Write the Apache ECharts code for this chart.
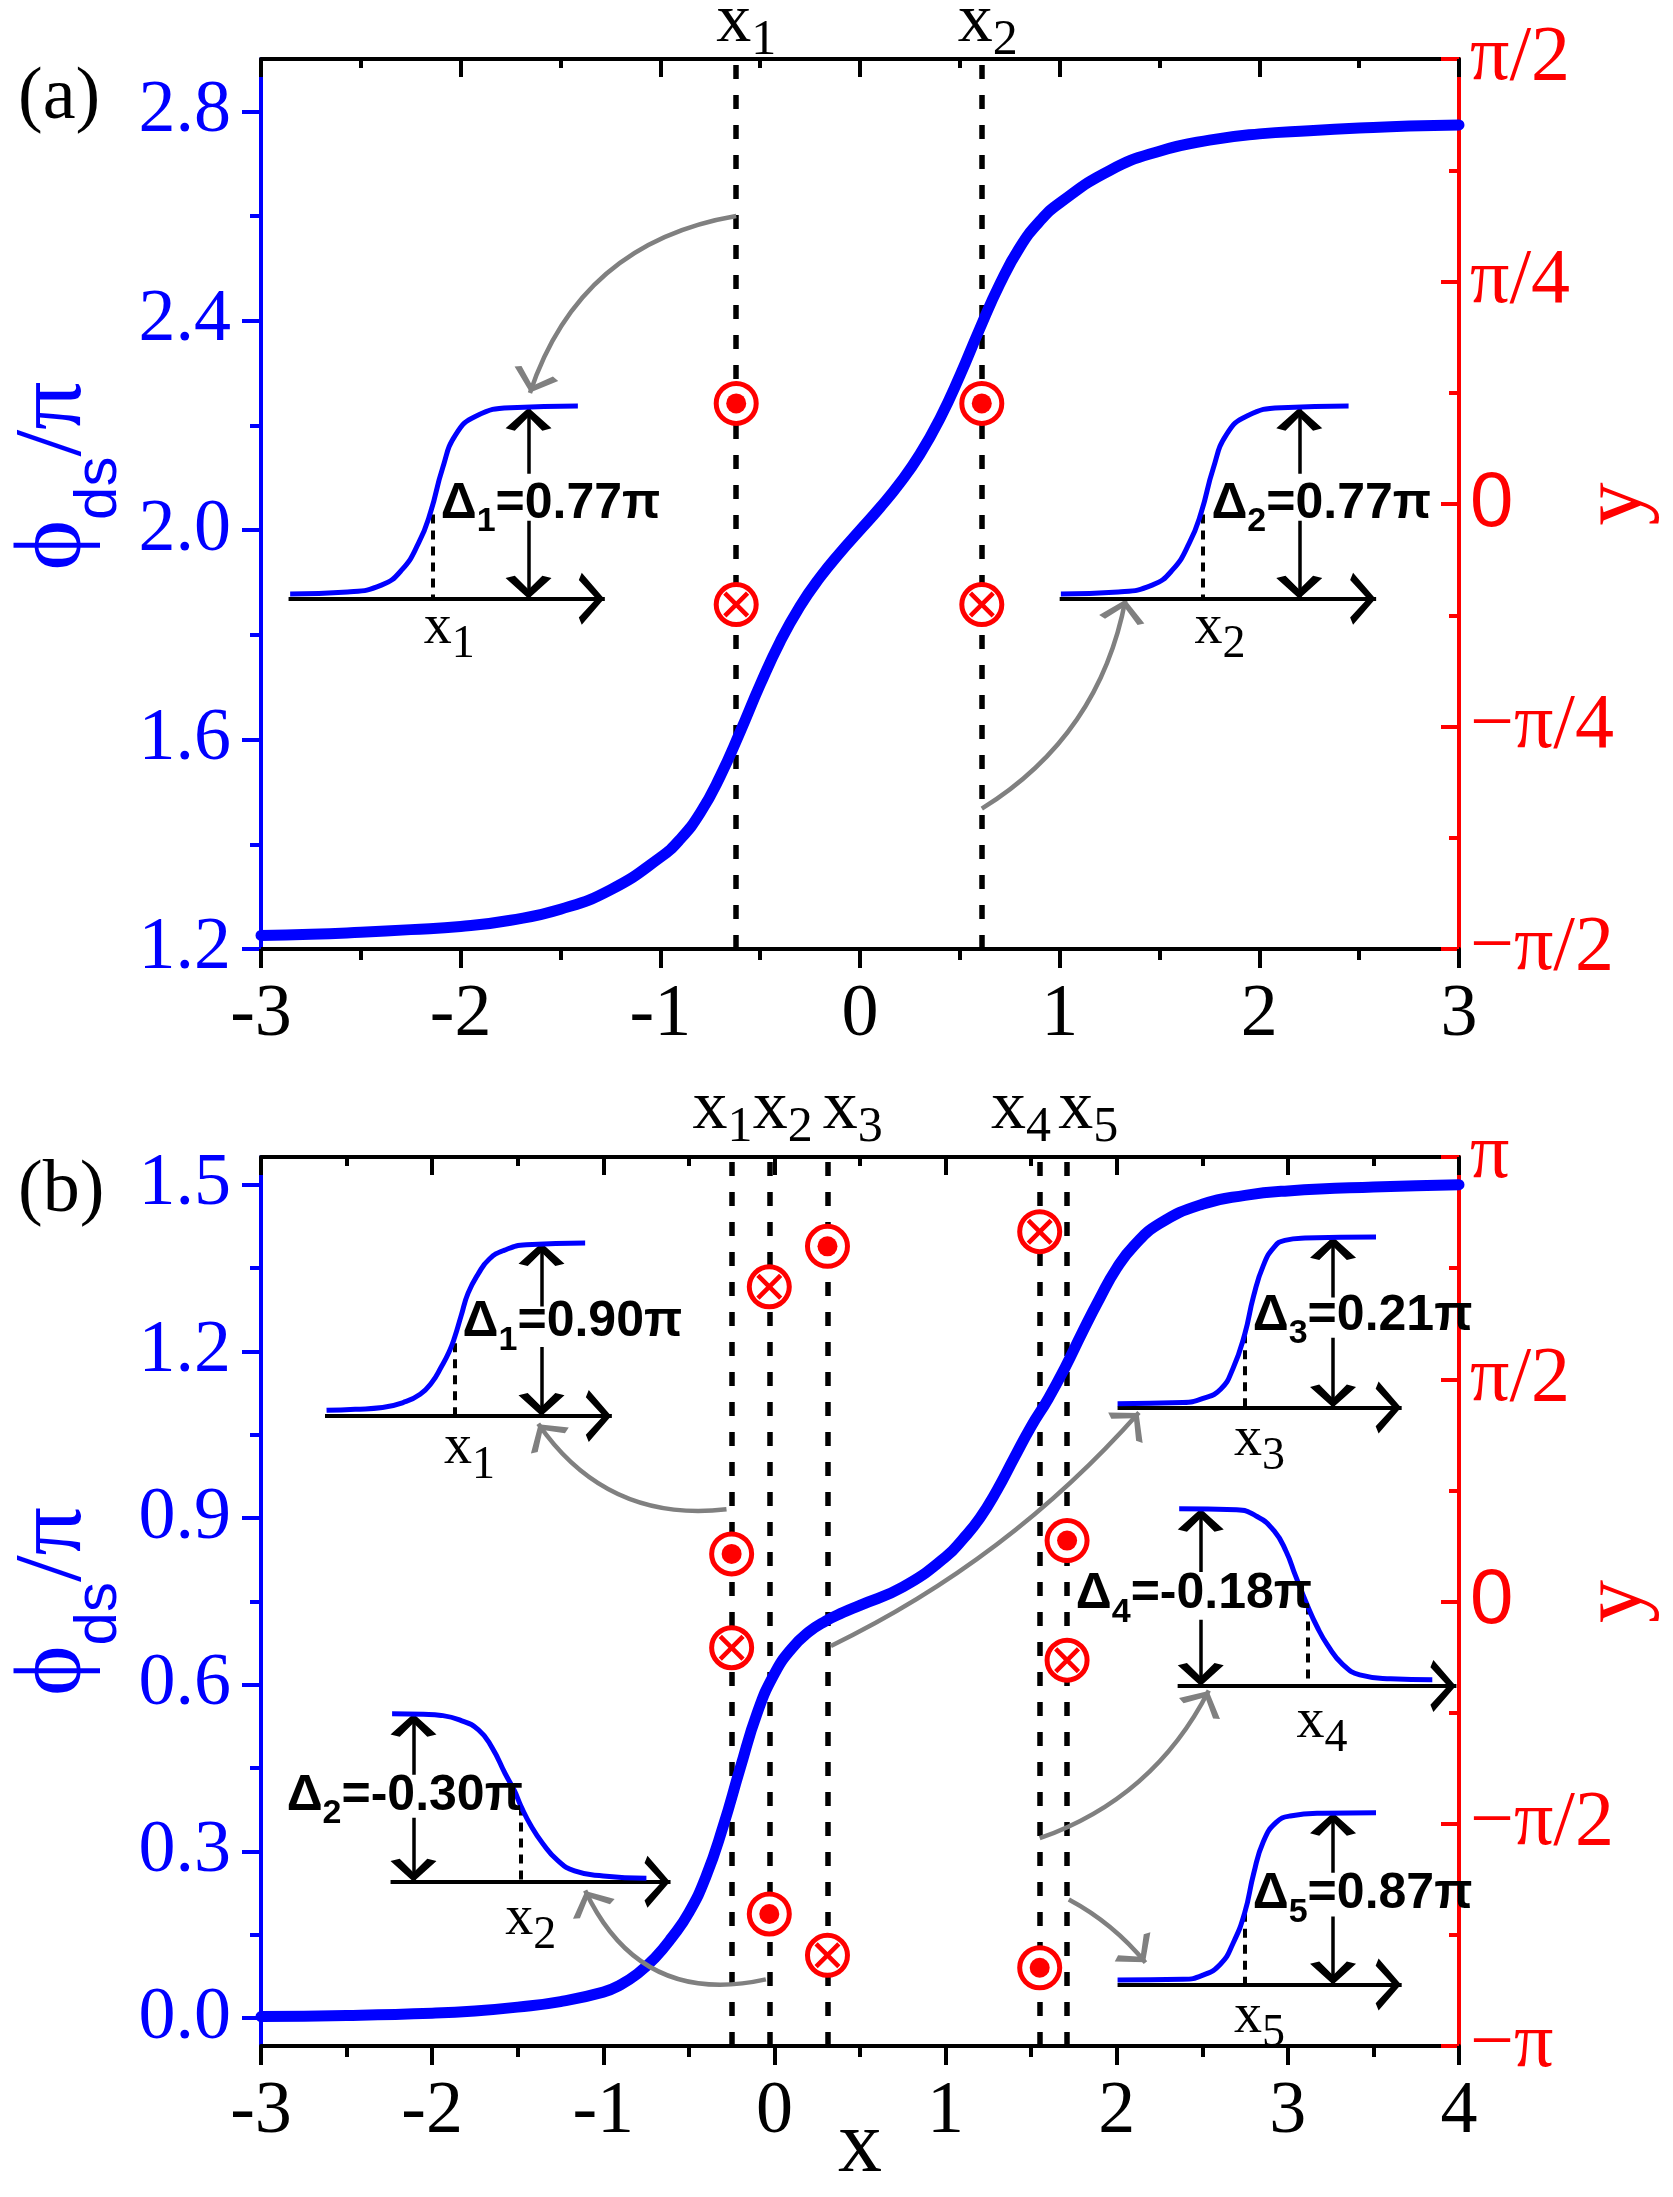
<!DOCTYPE html>
<html>
<head>
<meta charset="utf-8">
<script src="https://cdn.jsdelivr.net/npm/echarts@6/dist/echarts.min.js"></script>
<style>
html, body { margin: 0; padding: 0; background: #fff; }
#chart { width: 1673px; height: 2197px; }
</style>
</head>
<body>
<div id="chart"></div>
<script>
// ---- panel (a) data ----
var xA = [-3, -2.75, -2.5, -2.25, -2, -1.75, -1.5, -1.25, -1, -0.9, -0.8, -0.7, -0.6, -0.5, -0.4, -0.3, -0.2, -0.1, 0,
          0.1, 0.2, 0.3, 0.4, 0.5, 0.6, 0.7, 0.8, 0.9, 1, 1.25, 1.5, 1.75, 2, 2.25, 2.5, 2.75, 3];
var phiA = [1.226, 1.228, 1.232, 1.237, 1.243, 1.255, 1.276, 1.313, 1.375, 1.41, 1.46, 1.53, 1.615, 1.705, 1.787, 1.855, 1.91, 1.957, 2.0,
            2.043, 2.09, 2.145, 2.213, 2.295, 2.385, 2.47, 2.54, 2.59, 2.625, 2.687, 2.724, 2.745, 2.757, 2.763, 2.768, 2.772, 2.774];
var cutsA = [-0.62, 0.61];
var dotA = [[-0.62, 0.113], [0.61, 0.113]];       // y in units of pi
var crossA = [[-0.62, -0.113], [0.61, -0.113]];
var tickA = [1.2, 1.6, 2.0, 2.4, 2.8];
var minorA = [1.4, 1.8, 2.2, 2.6];

// ---- panel (b) data ----
var xB = [-3, -2.5, -2, -1.75, -1.5, -1.25, -1, -0.9, -0.8, -0.7, -0.6, -0.5, -0.4, -0.3, -0.2, -0.1, 0,
          0.1, 0.2, 0.3, 0.4, 0.5, 0.75, 1, 1.1, 1.2, 1.3, 1.4, 1.5, 1.6, 1.7, 1.8, 1.9, 2, 2.1, 2.25, 2.5, 2.75, 3, 3.5, 4];
var phiB = [0.003, 0.005, 0.009, 0.013, 0.02, 0.03, 0.047, 0.06, 0.08, 0.108, 0.145, 0.19, 0.255, 0.345, 0.45, 0.55, 0.62,
            0.665, 0.695, 0.715, 0.73, 0.743, 0.776, 0.83, 0.862, 0.9, 0.95, 1.008, 1.065, 1.115, 1.172, 1.235, 1.295, 1.35, 1.39, 1.43, 1.465, 1.481, 1.489, 1.496, 1.5];
var cutsB = [-0.25, -0.03, 0.31, 1.55, 1.71];
var dotB = [[-0.25, 0.107], [-0.03, -0.703], [0.31, 0.799], [1.55, -0.824], [1.71, 0.137]];
var crossB = [[-0.25, -0.104], [-0.03, 0.708], [0.31, -0.796], [1.55, 0.832], [1.71, -0.132]];
var tickB = [0, 0.3, 0.6, 0.9, 1.2, 1.5];
var minorB = [0.15, 0.45, 0.75, 1.05, 1.35];

// ---- inset sketches (left-axis coordinates) ----
var insetsA = [
  { curve: [[-2.854,1.878],[-2.566,1.882],[-2.397,1.895],[-2.295,1.924],[-2.21,1.976],[-2.151,2.034],[-2.091,2.118],[-2.024,2.183],[-1.922,2.218],[-1.75,2.234],[-1.413,2.237]],
    base: [[-2.862,1.869],[-1.278,1.869]], up: [[-1.66,2.108],[-1.66,2.234]], down: [[-1.66,2.018],[-1.66,1.869]], mark: [[-2.142,2.03],[-2.142,1.869]] },
  { curve: [[1.006,1.878],[1.294,1.882],[1.463,1.895],[1.565,1.924],[1.65,1.976],[1.709,2.034],[1.769,2.118],[1.836,2.183],[1.938,2.218],[2.11,2.234],[2.447,2.237]],
    base: [[1.0,1.869],[2.585,1.869]], up: [[2.2,2.108],[2.2,2.234]], down: [[2.2,2.018],[2.2,1.869]], mark: [[1.718,2.03],[1.718,1.869]] }
];
var insetsB = [
  { curve: [[-2.617,1.094],[-2.45,1.096],[-2.29,1.099],[-2.17,1.108],[-2.07,1.123],[-2.0,1.145],[-1.947,1.172],[-1.9,1.2],[-1.869,1.225],[-1.83,1.265],[-1.79,1.305],[-1.73,1.34],[-1.667,1.366],[-1.58,1.382],[-1.449,1.392],[-1.106,1.395]],
    base: [[-2.626,1.084],[-0.95,1.084]], up: [[-1.361,1.281],[-1.361,1.395]], down: [[-1.361,1.208],[-1.361,1.084]], mark: [[-1.869,1.215],[-1.869,1.084]] },
  { curve: [[-2.234,0.548],[-2.05,0.547],[-1.947,0.545],[-1.84,0.537],[-1.729,0.519],[-1.65,0.487],[-1.573,0.44],[-1.52,0.41],[-1.48,0.381],[-1.42,0.345],[-1.355,0.315],[-1.27,0.285],[-1.168,0.265],[-1.0,0.256],[-0.748,0.252]],
    base: [[-2.243,0.2456],[-0.607,0.2456]], up: [[-2.109,0.438],[-2.109,0.548]], down: [[-2.109,0.361],[-2.109,0.2456]], mark: [[-1.48,0.381],[-1.48,0.2456]] },
  { curve: [[2.005,1.106],[2.387,1.108],[2.5,1.115],[2.607,1.132],[2.68,1.17],[2.748,1.231],[2.8,1.3],[2.857,1.355],[2.92,1.388],[2.982,1.4],[3.1,1.404],[3.515,1.406]],
    base: [[2.005,1.099],[3.665,1.099]], up: [[3.264,1.297],[3.264,1.406]], down: [[3.264,1.2245],[3.264,1.099]], mark: [[2.748,1.231],[2.748,1.099]] },
  { curve: [[2.365,0.917],[2.7,0.915],[2.82,0.903],[2.92,0.877],[2.99,0.84],[3.045,0.796],[3.114,0.743],[3.17,0.705],[3.233,0.671],[3.32,0.637],[3.42,0.618],[3.6,0.611],[3.844,0.609]],
    base: [[2.356,0.598],[3.985,0.598]], up: [[2.491,0.803],[2.491,0.917]], down: [[2.491,0.717],[2.491,0.598]], mark: [[3.114,0.743],[3.114,0.598]] },
  { curve: [[2.005,0.0686],[2.387,0.07],[2.5,0.077],[2.607,0.0976],[2.68,0.135],[2.748,0.19],[2.8,0.26],[2.857,0.318],[2.93,0.352],[3.014,0.364],[3.2,0.369],[3.515,0.37]],
    base: [[2.005,0.0607],[3.665,0.0607]], up: [[3.264,0.262],[3.264,0.37]], down: [[3.264,0.183],[3.264,0.0607]], mark: [[2.748,0.19],[2.748,0.0607]] }
];

// grey pointer arrows: [from, to, curveness]
var pointersA = [[[-0.62, 2.6], [-1.653, 2.262], -0.3], [[0.61, 1.468], [1.33, 1.868], -0.22]];
var pointersB = [[[-0.28, 0.916], [-1.38, 1.07], 0.3], [[-0.05, 0.07], [-1.106, 0.23], 0.4],
                 [[0.33, 0.67], [2.13, 1.09], -0.1], [[1.55, 0.324], [2.538, 0.59], -0.2], [[1.72, 0.2136], [2.168, 0.1], 0.1]];

// labels: [x, y, index, value]
var deltaA = [[-2.1, 2.05, '1', '0.77π'], [1.76, 2.05, '2', '0.77π']];
var deltaB = [[-1.822, 1.252, '1', '0.90π'], [-2.85, 0.40, '2', '-0.30π'], [2.795, 1.264, '3', '0.21π'],
              [1.761, 0.763, '4', '-0.18π'], [2.795, 0.223, '5', '0.87π']];
var subLabA = [[-2.185, 1.813, '1'], [1.675, 1.813, '2']];
var subLabB = [[-1.93, 1.025, '1'], [-1.573, 0.178, '2'], [2.685, 1.04, '3'], [3.051, 0.533, '4'], [2.685, 0.002, '5']];
var topLabA = [[-0.72, 2.969, '1'], [0.49, 2.969, '2']];
var topLabB = [[-0.478, 1.635, '1'], [-0.127, 1.635, '2'], [0.283, 1.635, '3'], [1.266, 1.635, '4'], [1.658, 1.635, '5']];

var BLUE = '#0000ff', RED = '#ff0000', GRAY = '#808080';
var SERIF = '"Times New Roman", "Liberation Serif", "DejaVu Serif", serif';
var SANS = 'Arial, "Liberation Sans", "DejaVu Sans", sans-serif';
// chevron heads, tip at the centre of their box
var HEAD = 'path://M50,-100 L50.4,-100 L50,-99.6 Z M50,0 L100,84 L86,95 L50,30 L14,95 L0,84 Z';
var HEAD_V = 'path://M50,-100 L50.4,-100 L50,-99.6 Z M50,0 L100,90 L80,100 L50,40 L20,100 L0,90 Z';
var CROSS = 'path://M0,3 L3,0 L12,9 L21,0 L24,3 L15,12 L24,21 L21,24 L12,15 L3,24 L0,21 L9,12 Z';

function piLabel(v) {
  var k = Math.round(v * 4);
  var map = { '4': 'π', '2': 'π/2', '1': 'π/4', '0': '{z|0}', '-1': '−π/4', '-2': '−π/2', '-4': '−π' };
  return map[String(k)] || '';
}

function xPair(grid, min, max, named) {
  var bottom = {
    type: 'value', gridIndex: grid, position: 'bottom', min: min, max: max, interval: 1,
    axisLine: { show: true, onZero: false, lineStyle: { color: '#000', width: 4 } },
    axisTick: { show: true, inside: false, length: 19, lineStyle: { color: '#000', width: 4 } },
    minorTick: { show: true, splitNumber: 2, length: 11, lineStyle: { color: '#000', width: 4 } },
    axisLabel: { show: true, margin: 30, color: '#000', fontFamily: SERIF, fontSize: 74, showMinLabel: true, showMaxLabel: true },
    splitLine: { show: false }, minorSplitLine: { show: false }
  };
  if (named) {
    bottom.name = 'x';
    bottom.nameLocation = 'middle';
    bottom.nameGap = 58;
    bottom.nameMoveOverlap = false;
    bottom.nameTextStyle = { fontFamily: SERIF, fontSize: 88, color: '#000' };
  }
  var top = {
    type: 'value', gridIndex: grid, position: 'top', min: min, max: max, interval: 1,
    axisLine: { show: true, onZero: false, lineStyle: { color: '#000', width: 4 } },
    axisTick: { show: true, inside: true, length: 18, lineStyle: { color: '#000', width: 4 } },
    minorTick: { show: true, splitNumber: 2, length: 9, lineStyle: { color: '#000', width: 4 } },
    axisLabel: { show: false }, splitLine: { show: false }, minorSplitLine: { show: false }
  };
  return [bottom, top];
}

function yTriple(grid, min, max, ticks, minors, rmax, rint, namePad) {
  var left = {
    type: 'value', gridIndex: grid, position: 'left', min: min, max: max,
    axisLine: { show: true, onZero: false, lineStyle: { color: BLUE, width: 4 } },
    axisTick: { show: true, inside: false, length: 19, customValues: ticks, lineStyle: { color: BLUE, width: 4 } },
    axisLabel: { show: true, customValues: ticks, margin: 30, color: BLUE, fontFamily: SERIF, fontSize: 74,
                 formatter: function (v) { return v.toFixed(1); } },
    splitLine: { show: false },
    name: '{p|ϕ}{s|ds}{p|/π}', nameLocation: 'middle', nameRotate: 90, nameGap: 132, nameMoveOverlap: false,
    nameTextStyle: {
      color: BLUE, padding: namePad,
      rich: {
        p: { fontFamily: SERIF, fontSize: 96, color: BLUE },
        s: { fontFamily: SANS, fontSize: 60, color: BLUE, padding: [88, 0, 0, 0] }
      }
    }
  };
  var right = {
    type: 'value', gridIndex: grid, position: 'right', min: -rmax, max: rmax, interval: rint,
    axisLine: { show: true, onZero: false, lineStyle: { color: RED, width: 4 } },
    axisTick: { show: true, inside: true, length: 18, lineStyle: { color: RED, width: 4 } },
    minorTick: { show: true, splitNumber: 2, length: 10, lineStyle: { color: RED, width: 4 } },
    axisLabel: { show: true, margin: 11, color: RED, fontFamily: SERIF, fontSize: 78, formatter: piLabel,
                 showMinLabel: true, showMaxLabel: true,
                 rich: { z: { fontFamily: SANS, fontSize: 78, color: RED } } },
    splitLine: { show: false }, minorSplitLine: { show: false },
    name: 'y', nameLocation: 'middle', nameRotate: 90, nameGap: 115, nameMoveOverlap: false,
    nameTextStyle: { fontFamily: SERIF, fontSize: 86, color: RED }
  };
  var minor = {
    type: 'value', gridIndex: grid, position: 'left', min: min, max: max,
    axisLine: { show: false, onZero: false },
    axisTick: { show: true, inside: false, length: 11, customValues: minors, lineStyle: { color: BLUE, width: 4 } },
    axisLabel: { show: false }, splitLine: { show: false }
  };
  return [left, right, minor];
}

var panels = [
  { x: 0, yl: 0, yr: 1, lo: 1.2, hi: 2.9, xs: xA, ys: phiA, cuts: cutsA, dots: dotA, crosses: crossA,
    insets: insetsA, pointers: pointersA, delta: deltaA, sub: subLabA, top: topLabA },
  { x: 2, yl: 3, yr: 4, lo: -0.05, hi: 1.55, xs: xB, ys: phiB, cuts: cutsB, dots: dotB, crosses: crossB,
    insets: insetsB, pointers: pointersB, delta: deltaB, sub: subLabB, top: topLabB }
];

function labelSeries(p, items, rich) {
  return {
    type: 'scatter', xAxisIndex: p.x, yAxisIndex: p.yl, symbolSize: 0, clip: false, silent: true, z: 9,
    data: items.map(function (t) { return { value: [t[0], t[1]], name: t[2] }; }),
    label: { show: true, position: 'right', distance: 0, color: '#000', opacity: 1, textBorderWidth: 0,
             formatter: function (q) { return q.name; }, rich: rich }
  };
}

var series = [];
panels.forEach(function (p) {
  // dashed position lines
  series.push({
    type: 'lines', coordinateSystem: 'cartesian2d', xAxisIndex: p.x, yAxisIndex: p.yl, z: 2, silent: true,
    symbol: ['none', 'none'],
    lineStyle: { color: '#000', width: 5.5, type: [14, 16], opacity: 1 },
    data: p.cuts.map(function (c) { return { coords: [[c, p.lo], [c, p.hi]] }; })
  });
  // main curve
  series.push({
    type: 'line', xAxisIndex: p.x, yAxisIndex: p.yl, z: 3, silent: true,
    data: p.xs.map(function (x, i) { return [x, p.ys[i]]; }),
    showSymbol: false, symbol: 'none', smooth: 0.5,
    lineStyle: { color: BLUE, width: 11, cap: 'round', join: 'round' }
  });
  // grey pointers
  series.push({
    type: 'lines', coordinateSystem: 'cartesian2d', xAxisIndex: p.x, yAxisIndex: p.yl, z: 4, silent: true,
    symbol: ['none', HEAD], symbolSize: [20, 46],
    lineStyle: { color: GRAY, width: 4.5, opacity: 1 },
    data: p.pointers.map(function (a) { return { coords: [a[0], a[1]], lineStyle: { curveness: a[2] } }; })
  });
  // inset sketches
  p.insets.forEach(function (ins) {
    series.push({
      type: 'line', xAxisIndex: p.x, yAxisIndex: p.yl, z: 5, silent: true,
      data: ins.curve, showSymbol: false, symbol: 'none', smooth: 0.5,
      lineStyle: { color: BLUE, width: 5, join: 'round' }
    });
  });
  series.push({
    type: 'lines', coordinateSystem: 'cartesian2d', xAxisIndex: p.x, yAxisIndex: p.yl, z: 5, silent: true,
    symbol: ['none', HEAD], symbolSize: [20, 52],
    lineStyle: { color: '#000', width: 4, opacity: 1 },
    data: p.insets.map(function (ins) { return { coords: ins.base }; })
  });
  series.push({
    type: 'lines', coordinateSystem: 'cartesian2d', xAxisIndex: p.x, yAxisIndex: p.yl, z: 5, silent: true,
    symbol: ['none', HEAD_V], symbolSize: [15, 46],
    lineStyle: { color: '#000', width: 3.5, opacity: 1 },
    data: [].concat.apply([], p.insets.map(function (ins) { return [{ coords: ins.up }, { coords: ins.down }]; }))
  });
  series.push({
    type: 'lines', coordinateSystem: 'cartesian2d', xAxisIndex: p.x, yAxisIndex: p.yl, z: 5, silent: true,
    symbol: ['none', 'none'],
    lineStyle: { color: '#000', width: 4, type: [9, 7], opacity: 1 },
    data: p.insets.map(function (ins) { return { coords: ins.mark }; })
  });
  // spin markers
  series.push({
    type: 'scatter', xAxisIndex: p.x, yAxisIndex: p.yr, z: 6, silent: true,
    symbol: 'circle', symbolSize: 40,
    itemStyle: { color: '#fff', borderColor: RED, borderWidth: 5, opacity: 1 },
    data: p.dots.concat(p.crosses)
  });
  series.push({
    type: 'scatter', xAxisIndex: p.x, yAxisIndex: p.yr, z: 7, silent: true,
    symbol: 'circle', symbolSize: 20, itemStyle: { color: RED, opacity: 1 }, data: p.dots
  });
  series.push({
    type: 'scatter', xAxisIndex: p.x, yAxisIndex: p.yr, z: 7, silent: true,
    symbol: CROSS, symbolSize: 26, itemStyle: { color: RED, opacity: 1 }, data: p.crosses
  });
  // text
  series.push(labelSeries(p, p.delta.map(function (d) {
    return [d[0], d[1], '{d|Δ}{s|' + d[2] + '}{d|=' + d[3] + '}'];
  }), {
    d: { fontFamily: SANS, fontWeight: 'bold', fontSize: 50, color: '#000' },
    s: { fontFamily: SANS, fontWeight: 'bold', fontSize: 34, color: '#000', padding: [36, 0, 0, 0] }
  }));
  series.push(labelSeries(p, p.sub.map(function (d) { return [d[0], d[1], '{x|x}{s|' + d[2] + '}']; }), {
    x: { fontFamily: SERIF, fontSize: 56, color: '#000' },
    s: { fontFamily: SERIF, fontSize: 46, color: '#000', padding: [34, 0, 0, 0] }
  }));
  series.push(labelSeries(p, p.top.map(function (d) { return [d[0], d[1], '{x|x}{s|' + d[2] + '}']; }), {
    x: { fontFamily: SERIF, fontSize: 70, color: '#000' },
    s: { fontFamily: SERIF, fontSize: 50, color: '#000', padding: [36, 0, 0, 0] }
  }));
});

var chart = echarts.init(document.getElementById('chart'));
chart.setOption({
  animation: false,
  backgroundColor: '#fff',
  textStyle: { fontFamily: SERIF },
  title: [
    { text: '(a)', left: 18, top: 62, padding: 0, textStyle: { fontFamily: SERIF, fontSize: 74, fontWeight: 'normal', color: '#000' } },
    { text: '(b)', left: 18, top: 1155, padding: 0, textStyle: { fontFamily: SERIF, fontSize: 74, fontWeight: 'normal', color: '#000' } }
  ],
  grid: [
    { left: 261, top: 59, width: 1198, height: 890, containLabel: false, outerBoundsMode: 'none' },
    { left: 261, top: 1157, width: 1198, height: 889, containLabel: false, outerBoundsMode: 'none' }
  ],
  xAxis: xPair(0, -3, 3, false).concat(xPair(1, -3, 4, true)),
  yAxis: yTriple(0, 1.2, 2.9, tickA, minorA, 0.5, 0.25, [0, 0, 0, 56])
    .concat(yTriple(1, -0.05, 1.55, tickB, minorB, 1, 0.5, [0, 0, 0, 0])),
  series: series
});
</script>
</body>
</html>
